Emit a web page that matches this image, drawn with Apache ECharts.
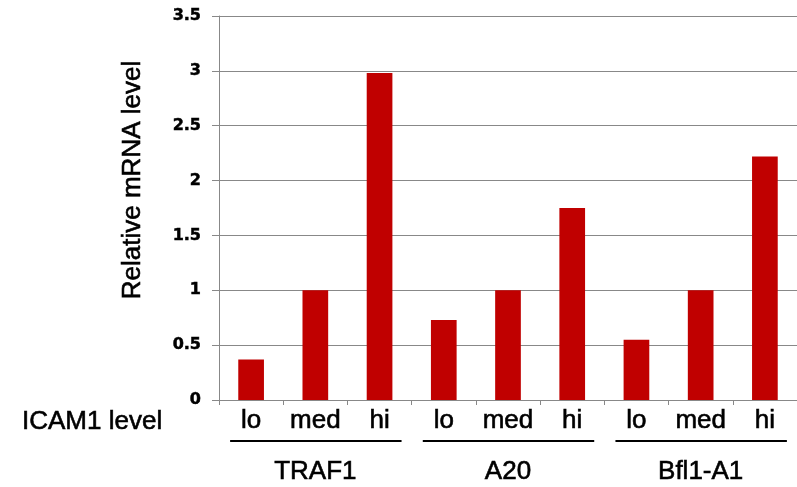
<!DOCTYPE html>
<html>
<head>
<meta charset="utf-8">
<script src="https://cdn.jsdelivr.net/npm/echarts@6/dist/echarts.min.js"></script>
<style>html,body{margin:0;padding:0;background:#fff}#c{width:797px;height:487px}</style>
</head>
<body>
<div id="c"></div>
<script>
const categories = ['lo','med','hi','lo','med','hi','lo','med','hi'];
const groups = ['TRAF1','A20','Bfl1-A1'];
const values = [0.37, 1.0, 2.98, 0.73, 1.0, 1.75, 0.55, 1.0, 2.22];
const yMin = 0, yMax = 3.5, yStep = 0.5;
const yTitle = 'Relative mRNA level';
const xTitle = 'ICAM1 level';

const FONT = '"Liberation Sans", Arial, sans-serif';
const TB = {textBorderColor: '#000', textBorderWidth: 0.6};
const chart = echarts.init(document.getElementById('c'), null, {renderer: 'canvas'});
chart.setOption({
  animation: false,
  grid: {left: 219, right: -4, top: 16, bottom: 87, containLabel: false},
  xAxis: [{
    type: 'category', data: categories, position: 'bottom',
    axisLine: {lineStyle: {color: '#888', width: 1}},
    axisTick: {show: true, length: 5, interval: 0, lineStyle: {color: '#888'}},
    axisLabel: Object.assign({interval: 0, margin: 8, color: '#000', fontSize: 26, fontFamily: FONT}, TB)
  }, {
    type: 'category', data: groups, position: 'bottom', offset: 51,
    axisLine: {show: false}, axisTick: {show: false},
    axisLabel: Object.assign({interval: 0, margin: 8, color: '#000', fontSize: 26, fontFamily: FONT}, TB)
  }],
  yAxis: {
    type: 'value', min: yMin, max: yMax, interval: yStep,
    axisLine: {show: true, lineStyle: {color: '#888', width: 1}},
    axisTick: {show: true, length: 7, lineStyle: {color: '#888'}},
    splitLine: {lineStyle: {color: '#888', width: 1}},
    axisLabel: Object.assign({margin: 18, color: '#000', fontSize: 16, fontWeight: 'bold', fontFamily: '"DejaVu Sans", sans-serif',
      formatter: v => String(v)}, {textBorderColor: '#000', textBorderWidth: 0.5})
  },
  series: [{
    type: 'bar', data: values, xAxisIndex: 0, barWidth: '40%',
    itemStyle: {color: '#C00000'}
  }]
});

function drawDecor() {
  const g = [];
  for (let i = 0; i < groups.length; i++) {
    const x1 = chart.convertToPixel({xAxisIndex: 0}, i * 3) - 21;
    const x2 = chart.convertToPixel({xAxisIndex: 0}, i * 3 + 2) + 22;
    g.push({type: 'line', shape: {x1: x1, y1: 441, x2: x2, y2: 441}, style: {stroke: '#000', lineWidth: 2}});
  }
  g.push({type: 'text', x: 22, y: 422, style: Object.assign({text: xTitle, font: '26px ' + FONT, fill: '#000', textAlign: 'left', textVerticalAlign: 'middle', stroke: '#000', lineWidth: 0.6})});
  g.push({type: 'text', x: 133, y: 180, rotation: Math.PI / 2, style: {text: yTitle, font: '26px ' + FONT, fill: '#000', textAlign: 'center', textVerticalAlign: 'middle', stroke: '#000', lineWidth: 0.6}});
  chart.setOption({graphic: g});
}
drawDecor();
</script>
</body>
</html>
